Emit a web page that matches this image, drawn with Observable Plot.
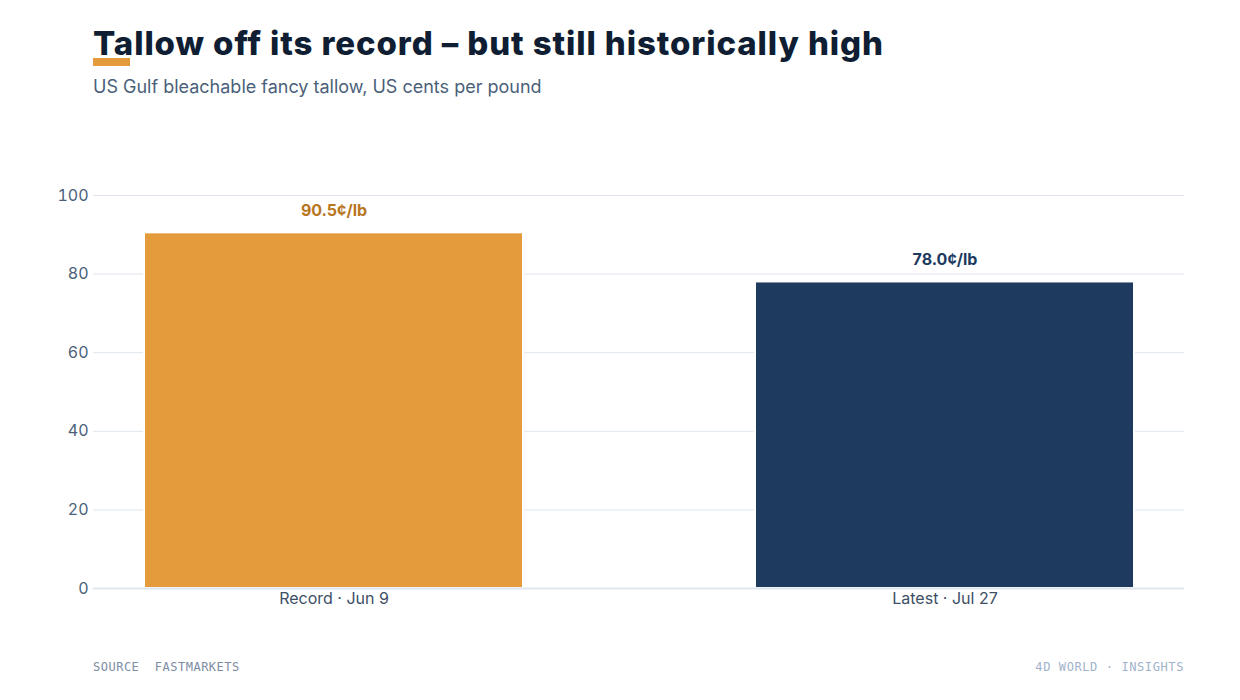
<!DOCTYPE html>
<html>
<head>
<meta charset="utf-8">
<script src="https://cdn.jsdelivr.net/npm/d3@7"></script>
<script src="https://cdn.jsdelivr.net/npm/@observablehq/plot@0.6"></script>
<style>
  html, body { margin: 0; padding: 0; background: #fff; }
  body { width: 1240px; height: 700px; position: relative; overflow: hidden; font-family: Inter, "Noto Sans", sans-serif; }
  #title { position: absolute; left: 93px; top: 23px; font-size: 33px; font-weight: 800; color: #0f1e33; letter-spacing: 0.9px; white-space: nowrap; }
  #accent { position: absolute; left: 93px; top: 58px; width: 37px; height: 8px; background: #e39b3b; }
  #subtitle { position: absolute; left: 93px; top: 76px; font-size: 18px; color: #4b5f7a; white-space: nowrap; }
  #chart { position: absolute; left: 0; top: 150px; }
  #source { position: absolute; left: 93px; top: 660px; font-family: "DejaVu Sans Mono", "Liberation Mono", monospace; font-size: 12px; color: #7d8da3; letter-spacing: 0.5px; white-space: pre; }
  #brand { position: absolute; right: 56px; top: 660px; font-family: "DejaVu Sans Mono", "Liberation Mono", monospace; font-size: 12px; color: #9fb3cb; letter-spacing: 0.6px; white-space: pre; }
</style>
</head>
<body>
<div id="title">Tallow off its record – but still historically high</div>
<div id="accent"></div>
<div id="subtitle">US Gulf bleachable fancy tallow, US cents per pound</div>
<div id="chart"></div>
<div id="source">SOURCE  FASTMARKETS</div>
<div id="brand">4D WORLD · INSIGHTS</div>
<script>
const categories = ["Record · Jun 9", "Latest · Jul 27"];
const values = [90.5, 78.0];
const valueLabels = ["90.5¢/lb", "78.0¢/lb"];
const barColors = ["#e39b3b", "#1e3a5e"];
const labelColors = ["#b8761f", "#1e3a5e"];
const yTicks = [0, 20, 40, 60, 80, 100];

const data = categories.map((c, i) => ({cat: c, value: values[i], label: valueLabels[i], fill: barColors[i], lc: labelColors[i]}));

const chart = Plot.plot({
  width: 1240,
  height: 480,
  marginLeft: 93,
  marginRight: 56,
  marginTop: 45,
  marginBottom: 42,
  style: {fontFamily: "Inter, 'Noto Sans', sans-serif", fontSize: "16px", color: "#4b5f7a", background: "#fff"},
  x: {domain: categories, paddingInner: 0.38, paddingOuter: 0.082, label: null, tickSize: 0, tickPadding: 4},
  y: {domain: [0, 100], ticks: yTicks, label: null, tickSize: 0, tickPadding: 5},
  marks: [
    Plot.gridY(yTicks.filter(d => d > 0), {stroke: "#dfe6ee", strokeOpacity: 1, strokeWidth: 1}),
    Plot.barY(data, {x: "cat", y: "value", fill: d => d.fill, stroke: "#fff", strokeWidth: 2}),
    Plot.ruleY([0], {stroke: "#dfe6ee", strokeWidth: 2}),
    Plot.text(data, {x: "cat", y: "value", text: "label", dy: -22, fill: d => d.lc, fontWeight: 700, fontSize: 16}),
    Plot.axisY({ticks: yTicks, tickSize: 0, tickPadding: 5, fill: "#4b5f7a", fontSize: 16}),
    Plot.axisX({tickSize: 0, tickPadding: 4, fill: "#3d4f66", fontSize: 16})
  ]
});
document.getElementById("chart").appendChild(chart);
</script>
</body>
</html>
